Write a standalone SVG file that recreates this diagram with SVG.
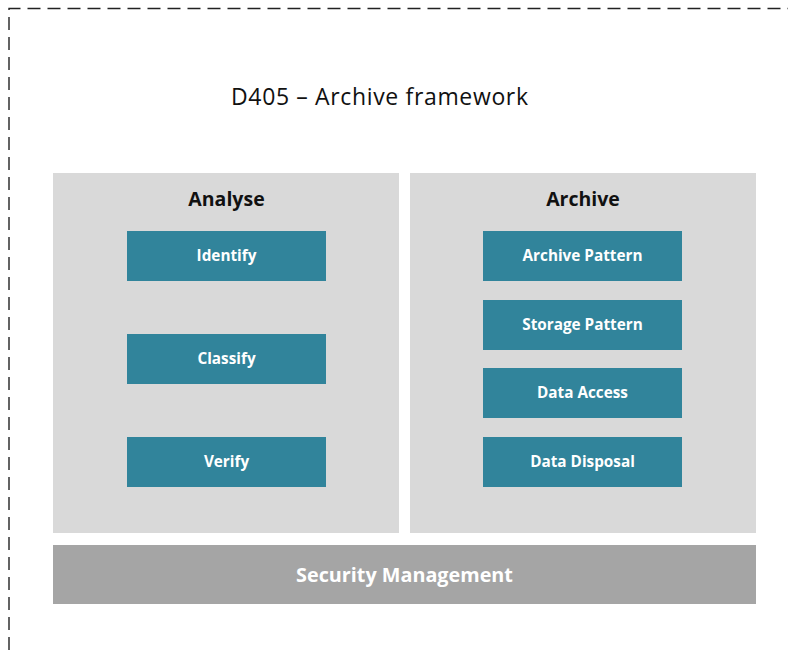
<svg xmlns="http://www.w3.org/2000/svg" width="788" height="650" viewBox="0 0 788 650">
<style>
.panel{fill:#d9d9d9}
.sec{fill:#a5a5a5}
.box{fill:#31849b}
.hdr{font-family:"Open Sans","Liberation Sans",sans-serif;font-weight:bold;font-size:19.5px;fill:#111;text-anchor:middle}
.lbl{font-family:"Open Sans","Liberation Sans",sans-serif;font-weight:bold;font-size:15.3px;fill:#fff;text-anchor:middle}
.title{font-family:"Open Sans","Liberation Sans",sans-serif;font-size:23px;fill:#111;text-anchor:middle}
.frame{fill:none;stroke:#222;stroke-width:1.4;stroke-dasharray:13 7}
</style>
<rect width="788" height="650" fill="#fff"/>
<path class="frame" d="M9 650 V8.5 H788"/>
<text class="title" x="379.5" y="104.5" textLength="297" lengthAdjust="spacing">D405 – Archive framework</text>
<g id="analyse">
<rect class="panel" x="53" y="173" width="346" height="360"/>
<text class="hdr" x="226.5" y="206">Analyse</text>
</g>
<g id="archive">
<rect class="panel" x="410" y="173" width="346" height="360"/>
<text class="hdr" x="583" y="206">Archive</text>
</g>
<g id="identify"><rect class="box" x="127" y="231" width="199" height="50"/><text class="lbl" x="226.5" y="261">Identify</text></g>
<g id="classify"><rect class="box" x="127" y="334" width="199" height="50"/><text class="lbl" x="226.5" y="364">Classify</text></g>
<g id="verify"><rect class="box" x="127" y="437" width="199" height="50"/><text class="lbl" x="226.5" y="467">Verify</text></g>
<g id="archive-pattern"><rect class="box" x="483" y="231" width="199" height="50"/><text class="lbl" x="582.5" y="261">Archive Pattern</text></g>
<g id="storage-pattern"><rect class="box" x="483" y="300" width="199" height="50"/><text class="lbl" x="582.5" y="330">Storage Pattern</text></g>
<g id="data-access"><rect class="box" x="483" y="368" width="199" height="50"/><text class="lbl" x="582.5" y="398">Data Access</text></g>
<g id="data-disposal"><rect class="box" x="483" y="437" width="199" height="50"/><text class="lbl" x="582.5" y="467">Data Disposal</text></g>
<g id="security">
<rect class="sec" x="53" y="545" width="703" height="59"/>
<text class="hdr" x="404.5" y="582" style="fill:#fff;font-size:19.8px">Security Management</text>
</g>
<g id="connectors"/>
</svg>
